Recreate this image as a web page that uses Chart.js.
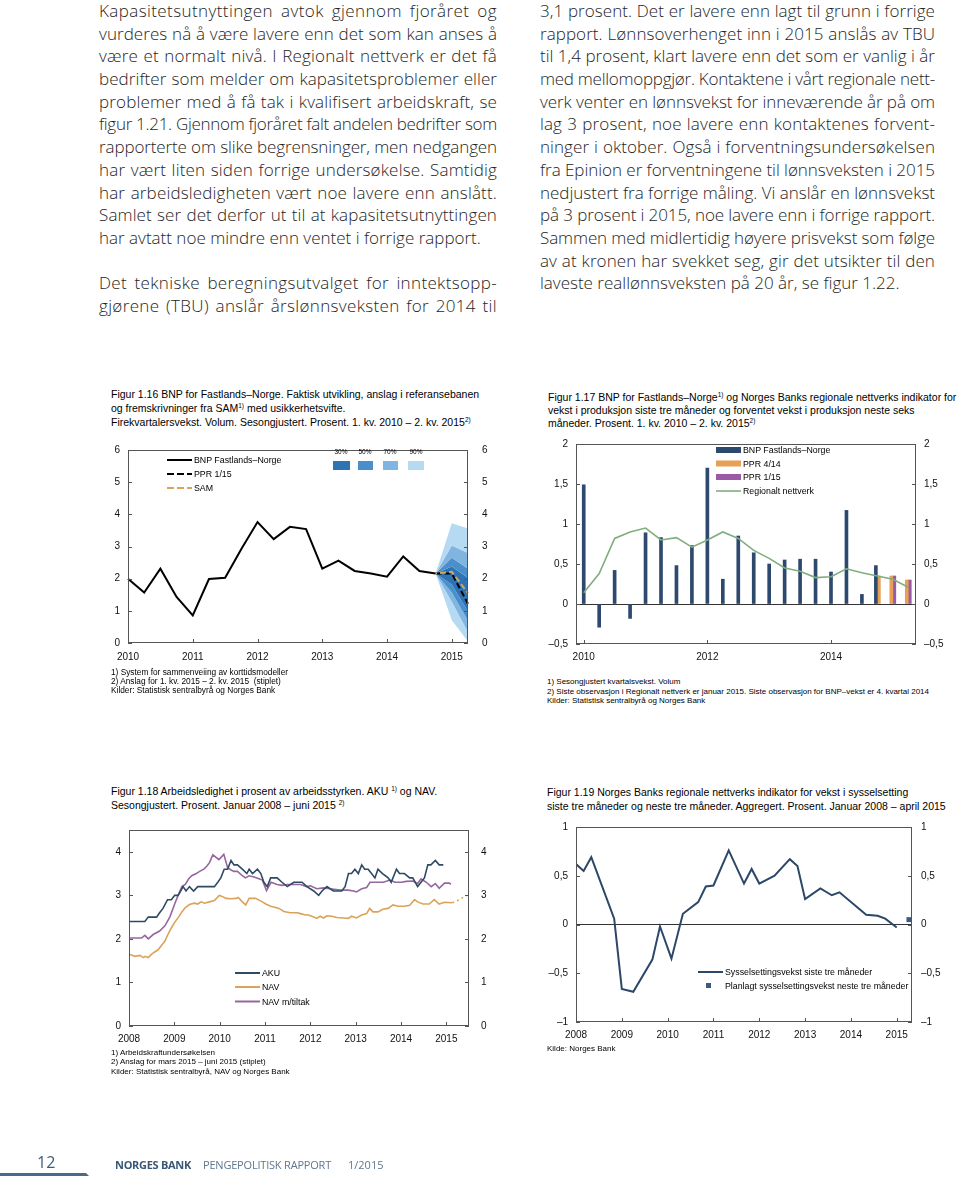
<!DOCTYPE html>
<html lang="no">
<head>
<meta charset="utf-8">
<title>Pengepolitisk rapport 1/2015 – side 12</title>
<script src="https://cdn.jsdelivr.net/npm/chart.js@4.4.1/dist/chart.umd.min.js"></script>
<style>
  body { margin: 0; width: 960px; height: 1183px; position: relative; background: #fff; overflow: hidden; }
  .col { position: absolute; top: 0; font-family: "Open Sans", Lato, sans-serif; font-weight: 300; font-size: 17px; line-height: 22.7px; color: #1e1e1e; }
  .col div { white-space: nowrap; height: 22.7px; }
  .fig { position: absolute; font-family: "Liberation Sans", Arial, sans-serif; color: #000; white-space: nowrap; }
  .title { font-size: 10.5px; line-height: 14px; }
  .fig sup { font-size: 6.5px; vertical-align: 4px; line-height: 0; }
  .note { font-size: 8px; line-height: 9px; }
  .leg { position: absolute; font-family: "Liberation Sans", Arial, sans-serif; font-size: 8.8px; line-height: 12px; white-space: nowrap; color: #000; }
  .pct { position: absolute; font-family: "Liberation Sans", Arial, sans-serif; font-size: 6.5px; width: 20px; text-align: center; }
  canvas { position: absolute; }
  svg { position: absolute; left: 0; top: 0; }
  .foot { position: absolute; font-family: "Open Sans", Lato, sans-serif; white-space: nowrap; }
</style>
</head>
<body>

<div class="col" id="colL" style="left:99px; width:398px;">
  <div class="j">Kapasitetsutnyttingen avtok gjennom fjoråret og</div>
  <div class="j">vurderes nå å være lavere enn det som kan anses å</div>
  <div class="j">være et normalt nivå. I Regionalt nettverk er det få</div>
  <div class="j">bedrifter som melder om kapasitetsproblemer eller</div>
  <div class="j">problemer med å få tak i kvalifisert arbeidskraft, se</div>
  <div class="j">figur 1.21. Gjennom fjoråret falt andelen bedrifter som</div>
  <div class="j">rapporterte om slike begrensninger, men nedgangen</div>
  <div class="j">har vært liten siden forrige undersøkelse. Samtidig</div>
  <div class="j">har arbeidsledigheten vært noe lavere enn anslått.</div>
  <div class="j">Samlet ser det derfor ut til at kapasitetsutnyttingen</div>
  <div class="e">har avtatt noe mindre enn ventet i forrige rapport.</div>
  <div></div>
  <div class="j">Det tekniske beregningsutvalget for inntektsopp-</div>
  <div class="j">gjørene (TBU) anslår årslønnsveksten for 2014 til</div>
</div>

<div class="col" id="colR" style="left:540px; width:395px;">
  <div class="j">3,1 prosent. Det er lavere enn lagt til grunn i forrige</div>
  <div class="j">rapport. Lønnsoverhenget inn i 2015 anslås av TBU</div>
  <div class="j">til 1,4 prosent, klart lavere enn det som er vanlig i år</div>
  <div class="j">med mellomoppgjør. Kontaktene i vårt regionale nett-</div>
  <div class="j">verk venter en lønnsvekst for inneværende år på om</div>
  <div class="j">lag 3 prosent, noe lavere enn kontaktenes forvent-</div>
  <div class="j">ninger i oktober. Også i forventningsundersøkelsen</div>
  <div class="j">fra Epinion er forventningene til lønnsveksten i 2015</div>
  <div class="j">nedjustert fra forrige måling. Vi anslår en lønnsvekst</div>
  <div class="j">på 3 prosent i 2015, noe lavere enn i forrige rapport.</div>
  <div class="j">Sammen med midlertidig høyere prisvekst som følge</div>
  <div class="j">av at kronen har svekket seg, gir det utsikter til den</div>
  <div class="e">laveste reallønnsveksten på 20 år, se figur 1.22.</div>
</div>

<!-- Figur 1.16 -->
<div class="fig title" style="left:111px; top:387px;">
  Figur 1.16 BNP for Fastlands–Norge. Faktisk utvikling, anslag i referansebanen<br>
  og fremskrivninger fra SAM<sup>1)</sup> med usikkerhetsvifte.<br>
  Firekvartalersvekst. Volum. Sesongjustert. Prosent. 1. kv. 2010 – 2. kv. 2015<sup>2)</sup>
</div>
<canvas id="c1" width="420" height="240" style="left:88px; top:430px;"></canvas>
<div class="fig note" style="left:111px; top:668px; font-size:8.3px; line-height:8.8px;">
  1) System for sammenveiing av korttidsmodeller<br>
  2) Anslag for 1. kv. 2015 – 2. kv. 2015 &nbsp;(stiplet)<br>
  Kilder: Statistisk sentralbyrå og Norges Bank
</div>

<!-- Figur 1.17 -->
<div class="fig title" style="left:548px; top:391px; line-height:13px;">
  Figur 1.17 BNP for Fastlands–Norge<sup>1)</sup> og Norges Banks regionale nettverks indikator for<br>
  vekst i produksjon siste tre måneder og forventet vekst i produksjon neste seks<br>
  måneder. Prosent. 1. kv. 2010 – 2. kv. 2015<sup>2)</sup>
</div>
<canvas id="c2" width="420" height="240" style="left:536px; top:430px;"></canvas>
<div class="fig note" style="left:547px; top:677px; line-height:9.6px;">
  1) Sesongjustert kvartalsvekst. Volum<br>
  2) Siste observasjon i Regionalt nettverk er januar 2015. Siste observasjon for BNP–vekst er 4. kvartal 2014<br>
  Kilder: Statistisk sentralbyrå og Norges Bank
</div>

<!-- Figur 1.18 -->
<div class="fig title" style="left:111px; top:784px; line-height:14px;">
  Figur 1.18 Arbeidsledighet i prosent av arbeidsstyrken. AKU <sup>1)</sup> og NAV.<br>
  Sesongjustert. Prosent. Januar 2008 – juni 2015 <sup>2)</sup>
</div>
<canvas id="c3" width="420" height="240" style="left:89px; top:812px;"></canvas>
<div class="fig note" style="left:111px; top:1048px; line-height:9.3px;">
  1) Arbeidskraftundersøkelsen<br>
  2) Anslag for mars 2015 – juni 2015 (stiplet)<br>
  Kilder: Statistisk sentralbyrå, NAV og Norges Bank
</div>

<!-- Figur 1.19 -->
<div class="fig title" style="left:547px; top:786px; line-height:13.5px;">
  Figur 1.19 Norges Banks regionale nettverks indikator for vekst i sysselsetting<br>
  siste tre måneder og neste tre måneder. Aggregert. Prosent. Januar 2008 – april 2015
</div>
<canvas id="c4" width="416" height="236" style="left:536px; top:812px;"></canvas>
<div class="fig note" style="left:547px; top:1044px;">Kilde: Norges Bank</div>

<!-- legend glyphs -->
<svg width="960" height="1183">
  <line x1="167" y1="460" x2="192" y2="460" stroke="#000" stroke-width="2"/>
  <line x1="167" y1="474" x2="192" y2="474" stroke="#000" stroke-width="2" stroke-dasharray="7,3"/>
  <line x1="167" y1="488" x2="192" y2="488" stroke="#d8a457" stroke-width="2" stroke-dasharray="7,3"/>
  <rect x="333" y="461" width="17" height="9" fill="#2e74b5"/>
  <rect x="358" y="461" width="15" height="9" fill="#4a8fcc"/>
  <rect x="383" y="461" width="15" height="9" fill="#7fb5e0"/>
  <rect x="408" y="461" width="16" height="9" fill="#b5daf2"/>

  <rect x="716" y="447" width="25" height="6" fill="#2d4a6e"/>
  <rect x="716" y="460.5" width="25" height="6" fill="#e8a055"/>
  <rect x="716" y="474" width="25" height="6" fill="#9a5aa6"/>
  <line x1="716" y1="491" x2="741" y2="491" stroke="#7fae7f" stroke-width="1.6"/>

  <line x1="235" y1="973" x2="260" y2="973" stroke="#2e4a65" stroke-width="2"/>
  <line x1="235" y1="987" x2="260" y2="987" stroke="#dba35a" stroke-width="2"/>
  <line x1="235" y1="1001.5" x2="260" y2="1001.5" stroke="#96679e" stroke-width="2"/>

  <line x1="698" y1="972" x2="723" y2="972" stroke="#2c4868" stroke-width="2"/>
  <rect x="706" y="983" width="5" height="5" fill="#3c5a80"/>

  <polygon points="0,1173 86,1173 89,1176 0,1176" fill="#4a6a8a"/>
</svg>

<div class="leg" style="left:194px; top:454px;">BNP Fastlands–Norge</div>
<div class="leg" style="left:194px; top:468px;">PPR 1/15</div>
<div class="leg" style="left:194px; top:482px;">SAM</div>
<div class="pct" style="left:331px; top:448px;">30%</div>
<div class="pct" style="left:355px; top:448px;">50%</div>
<div class="pct" style="left:380px; top:448px;">70%</div>
<div class="pct" style="left:406px; top:448px;">90%</div>

<div class="leg" style="left:743px; top:444px;">BNP Fastlands–Norge</div>
<div class="leg" style="left:743px; top:457.5px;">PPR 4/14</div>
<div class="leg" style="left:743px; top:471px;">PPR 1/15</div>
<div class="leg" style="left:743px; top:485px;">Regionalt nettverk</div>

<div class="leg" style="left:262px; top:967px;">AKU</div>
<div class="leg" style="left:262px; top:981px;">NAV</div>
<div class="leg" style="left:262px; top:995.5px;">NAV m/tiltak</div>

<div class="leg" style="left:725px; top:966px;">Sysselsettingsvekst siste tre måneder</div>
<div class="leg" style="left:725px; top:980px;">Planlagt sysselsettingsvekst neste tre måneder</div>

<div class="foot" style="left:37px; top:1151px; font-size:16px; color:#3d5b7a;">12</div>
<div class="foot" style="left:115px; top:1157px; font-size:11px; font-weight:bold; color:#3a5876; letter-spacing:-0.3px;">NORGES BANK</div>
<div class="foot" style="left:203px; top:1157px; font-size:11px; color:#5f7791; letter-spacing:-0.2px;">PENGEPOLITISK RAPPORT</div>
<div class="foot" style="left:348px; top:1157px; font-size:11px; color:#5f7791;">1/2015</div>

<script>
// ---- Figur 1.16: BNP Fastlands-Norge, firekvartalersvekst ----
const quarters = ['2010K1','2010K2','2010K3','2010K4','2011K1','2011K2','2011K3','2011K4',
  '2012K1','2012K2','2012K3','2012K4','2013K1','2013K2','2013K3','2013K4',
  '2014K1','2014K2','2014K3','2014K4','2015K1','2015K2'];
const bnp4q = [2.00,1.57,2.31,1.43,0.86,1.99,2.03,2.92,3.76,3.23,3.61,3.54,2.31,2.56,2.24,2.16,2.06,2.69,2.24,2.16,null,null];
const n19 = Array(19).fill(null);
const ppr115Path = n19.concat([2.16, 2.16, 1.22]);
const samPath = n19.concat([2.16, 2.21, 1.55]);
// usikkerhetsvifte, øvre og nedre grenser
const up90 = n19.concat([2.16, 3.72, 3.56]);
const up70 = n19.concat([2.16, 3.03, 2.80]);
const up50 = n19.concat([2.16, 2.65, 2.31]);
const up30 = n19.concat([2.16, 2.38, 2.02]);
const lo30 = n19.concat([2.16, 1.82, 0.98]);
const lo50 = n19.concat([2.16, 1.57, 0.69]);
const lo70 = n19.concat([2.16, 1.28, 0.34]);
const lo90 = n19.concat([2.16, 0.71, 0.05]);
const ticks16 = [0, 1, 2, 3, 4, 5, 6];

// ---- Figur 1.17: kvartalsvekst og Regionalt nettverk ----
const bnpQ = [1.49,-0.29,0.42,-0.18,0.89,0.83,0.48,0.73,1.70,0.31,0.85,0.64,0.50,0.55,0.56,0.56,0.40,1.17,0.12,0.48,null,null];
const ppr414 = n19.concat([0.35, 0.35, 0.30]);
const ppr115 = n19.concat([null, 0.35, 0.30]);
const regional = [0.14,0.38,0.82,0.90,0.95,0.80,0.83,0.71,0.80,0.90,0.82,0.67,0.57,0.45,0.41,0.33,0.34,0.44,0.39,0.35,0.31,0.21];
const ticks17 = [-0.5, 0, 0.5, 1, 1.5, 2];

// ---- Figur 1.18: arbeidsledighet (måneder etter januar 2008) ----
const akuMonths = [0,4.2,5.1,7.3,8.1,9.0,10.2,11.2,12.1,13.0,13.7,14.3,15.1,16.0,17.1,18.2,22.6,23.5,24.3,25.2,
  26.1,27.0,27.8,28.7,30.0,31.2,31.8,32.7,34.0,34.9,35.7,36.6,37.5,39.2,40.5,41.9,43.6,45.8,47.1,48.9,
  50.2,51.1,52.4,54.1,56.3,57.2,58.1,58.9,59.8,60.7,61.6,62.4,63.3,64.2,65.1,65.9,67.1,68.6,69.4,70.8,
  71.6,72.9,74.3,75.1,76.4,77.3,78.2,79.1,79.9,81.1,82.1,83.2];
const akuValues = [2.4,2.4,2.5,2.5,2.6,2.7,2.9,2.9,3.0,3.0,3.1,3.2,3.1,3.2,3.1,3.2,3.2,3.3,3.4,3.6,
  3.6,3.8,3.7,3.7,3.6,3.5,3.6,3.5,3.6,3.5,3.3,3.2,3.4,3.4,3.3,3.2,3.3,3.3,3.2,3.1,
  3.0,3.1,3.2,3.1,3.1,3.2,3.5,3.5,3.6,3.5,3.7,3.6,3.6,3.5,3.4,3.6,3.5,3.4,3.3,3.6,
  3.5,3.5,3.4,3.4,3.2,3.3,3.4,3.7,3.7,3.8,3.7,3.7];
const navMonths = [0,1.6,2.9,3.8,4.2,5.1,6.0,6.8,7.7,8.6,9.5,10.3,11.2,12.1,13.1,14.0,14.9,16.0,17.3,18.2,
  19.1,20.0,21.3,22.6,23.9,24.8,25.7,27.0,28.3,28.9,30.0,30.9,31.8,33.5,35.3,36.2,37.5,38.8,39.7,41.0,
  42.7,44.5,45.4,46.7,47.5,48.9,49.7,50.6,51.5,52.4,53.7,55.0,56.7,58.1,58.9,60.2,61.6,62.9,63.7,64.6,
  65.9,67.2,68.6,69.9,71.2,72.9,74.3,75.6,76.4,77.8,79.5,80.8,82.1,83.5,85.6];
const navValues = [1.65,1.6,1.62,1.57,1.6,1.57,1.65,1.7,1.75,1.85,1.95,2.1,2.25,2.38,2.5,2.62,2.72,2.79,2.82,2.8,
  2.85,2.82,2.85,2.88,3.0,2.97,2.93,2.92,2.93,2.95,2.85,2.78,2.93,2.93,2.85,2.8,2.75,2.72,2.7,2.63,
  2.6,2.6,2.58,2.55,2.55,2.5,2.47,2.52,2.48,2.53,2.52,2.49,2.48,2.47,2.52,2.48,2.55,2.58,2.7,2.62,
  2.62,2.68,2.7,2.78,2.75,2.75,2.77,2.9,2.85,2.8,2.8,2.9,2.8,2.84,2.83];
const navFcMonths = [85.6, 87.4, 89.4];
const navFcValues = [2.83, 2.9, 3.0];
const tiltakMonths = [0,3.3,4.2,5.1,6.4,8.1,9.5,10.8,12.1,13.0,14.0,14.9,15.8,16.6,17.8,18.7,19.8,20.7,21.3,22.2,
  23.8,25.1,26.1,27.0,27.8,28.7,30.0,30.8,31.8,33.1,34.4,35.3,36.4,37.6,39.2,40.5,41.9,43.6,45.4,47.0,
  48.0,49.7,51.5,53.2,55.9,58.0,59.4,60.2,61.6,62.9,63.8,65.6,67.3,69.1,70.4,72.1,73.4,75.2,76.4,77.3,
  78.7,80.0,81.1,82.1,83.5,84.8,85.2];
const tiltakValues = [2.02,2.02,2.08,2.0,2.1,2.18,2.3,2.5,2.8,3.0,3.2,3.25,3.38,3.45,3.5,3.55,3.6,3.68,3.75,3.93,
  3.82,3.94,3.64,3.58,3.55,3.55,3.45,3.4,3.45,3.42,3.38,3.35,3.11,3.3,3.25,3.23,3.25,3.25,3.25,3.2,
  3.22,3.15,3.17,3.15,3.12,3.12,3.1,3.08,3.15,3.18,3.3,3.3,3.3,3.35,3.3,3.3,3.32,3.33,3.27,3.38,
  3.3,3.2,3.27,3.16,3.28,3.28,3.25];
const ticks18 = [0, 1, 2, 3, 4];
const yearTicks = [0, 12, 24, 36, 48, 60, 72, 84];

// ---- Figur 1.19: sysselsetting, Regionalt nettverk ----
const empMonths = [0,2,4,10,12,15,20,22,25,28,32,34,36,40,44,46,48,52,56,58,60,64,67,69,76,79,81,84];
const empValues = [0.62,0.55,0.69,0.06,-0.66,-0.69,-0.36,-0.02,-0.35,0.11,0.23,0.39,0.40,0.76,0.42,0.57,0.42,0.50,0.67,0.60,0.26,0.37,0.30,0.33,0.10,0.09,0.06,-0.03];
const planMonths = [87.2];
const planValues = [0.05];
const ticks19 = [-1, -0.5, 0, 0.5, 1];

// ---------------------------------------------------------------
Chart.defaults.font.family = '"Liberation Sans", Arial, sans-serif';
Chart.defaults.font.size = 10;
Chart.defaults.color = '#111';
Chart.defaults.animation = false;
Chart.defaults.plugins.legend.display = false;
Chart.defaults.plugins.tooltip.enabled = false;
Chart.defaults.elements.point.radius = 0;
Chart.defaults.elements.line.tension = 0;

const fmt = v => (v < 0 ? '–' : '') + String(Math.abs(v)).replace('.', ',');
const xy = (xs, ys) => xs.map((x, i) => ({ x: x, y: ys[i] }));

// frame round the plot, with short ticks pointing inwards
const framePlugin = {
  id: 'frame',
  afterDraw(chart) {
    const { ctx, chartArea: a } = chart;
    ctx.save();
    ctx.strokeStyle = '#555';
    ctx.lineWidth = 1;
    ctx.strokeRect(Math.round(a.left) + 0.5, Math.round(a.top) + 0.5,
      Math.round(a.right - a.left) - 1, Math.round(a.bottom - a.top) - 1);
    ctx.beginPath();
    Object.values(chart.scales).forEach(s => {
      s.ticks.forEach((t, i) => {
        if (s.isHorizontal()) {
          if (t.label === '') return;
          const x = Math.round(s.getPixelForTick(i)) + 0.5;
          ctx.moveTo(x, a.bottom); ctx.lineTo(x, a.bottom - 4);
        } else {
          const y = Math.round(s.getPixelForValue(t.value)) + 0.5;
          if (s.position === 'left') { ctx.moveTo(a.left, y); ctx.lineTo(a.left + 4, y); }
          else { ctx.moveTo(a.right - 4, y); ctx.lineTo(a.right, y); }
        }
      });
    });
    ctx.stroke();
    ctx.restore();
  }
};

function yScales(tickVals, min, max, padL, padR, zeroLine) {
  const mk = (pos, pad) => ({
    position: pos, min: min, max: max,
    afterFit: s => { s.width = 40; },
    afterBuildTicks: s => { s.ticks = tickVals.map(v => ({ value: v })); },
    border: { display: false },
    grid: {
      display: pos === 'left' && zeroLine, drawTicks: false,
      color: c => (c.tick && c.tick.value === 0 ? '#333' : 'rgba(0,0,0,0)')
    },
    ticks: { padding: pad, callback: fmt }
  });
  return { y: mk('left', padL), y2: mk('right', padR) };
}

function monthAxis(max) {
  return {
    type: 'linear', min: 0, max: max,
    afterFit: s => { s.height = 26; },
    afterBuildTicks: s => { s.ticks = yearTicks.map(v => ({ value: v })); },
    border: { display: false },
    grid: { display: false, drawTicks: false },
    ticks: { padding: 7, maxRotation: 0, autoSkip: false, callback: v => String(2008 + v / 12) }
  };
}

function base(scales) {
  return {
    responsive: false,
    layout: { padding: { top: 10, left: 0, right: 0, bottom: 0 } },
    plugins: { filler: { drawTime: 'beforeDatasetsDraw' } },
    scales: scales
  };
}

// Figur 1.16
const band = (data, color) => ({
  data: data, borderWidth: 0, borderColor: 'rgba(0,0,0,0)',
  backgroundColor: color || 'rgba(0,0,0,0)', fill: color ? '+1' : false
});
new Chart(document.getElementById('c1'), {
  type: 'line',
  data: {
    labels: quarters,
    datasets: [
      { data: samPath, borderColor: '#d8a457', borderWidth: 2, borderDash: [6, 3], borderDashOffset: 4.5 },
      { data: ppr115Path, borderColor: '#000', borderWidth: 2, borderDash: [6, 3] },
      { data: bnp4q, borderColor: '#000', borderWidth: 2 },
      band(up90, '#b5daf2'), band(up70, '#7fb5e0'), band(up50, '#4a8fcc'), band(up30, '#2e74b5'),
      band(lo30, '#4a8fcc'), band(lo50, '#7fb5e0'), band(lo70, '#b5daf2'), band(lo90, null)
    ]
  },
  options: base(Object.assign({
    x: {
      type: 'category', offset: false,
      afterFit: s => { s.height = 27; },
      border: { display: false },
      grid: { display: false, drawTicks: false },
      ticks: { padding: 8, autoSkip: false, maxRotation: 0,
        callback: (v, i) => (quarters[i].endsWith('K1') ? quarters[i].slice(0, 4) : '') }
    }
  }, yScales(ticks16, 0, 6, 8, 14, false))),
  plugins: [framePlugin]
});

// Figur 1.17
new Chart(document.getElementById('c2'), {
  type: 'bar',
  data: {
    labels: quarters,
    datasets: [
      { type: 'line', data: regional, borderColor: '#7fae7f', borderWidth: 1.6, order: 0 },
      { data: bnpQ, backgroundColor: '#2d4a6e', order: 1 },
      { data: ppr414, backgroundColor: '#e8a055', order: 1 },
      { data: ppr115, backgroundColor: '#9a5aa6', order: 1 }
    ]
  },
  options: Object.assign(base(Object.assign({
    x: {
      type: 'category', offset: true,
      afterFit: s => { s.height = 26; },
      border: { display: false },
      grid: { display: false, drawTicks: false },
      ticks: { padding: 7, autoSkip: false, maxRotation: 0,
        callback: (v, i) => {
          const q = quarters[i];
          return q.endsWith('K1') && +q.slice(0, 4) % 2 === 0 ? q.slice(0, 4) : '';
        } }
    }
  }, yScales(ticks17, -0.5, 2, 8, 8, true))), {
    datasets: { bar: { barThickness: 3, skipNull: true } }
  }),
  plugins: [framePlugin]
});

// Figur 1.18
new Chart(document.getElementById('c3'), {
  type: 'line',
  data: {
    datasets: [
      { data: xy(akuMonths, akuValues), borderColor: '#2e4a65', borderWidth: 1.6 },
      { data: xy(tiltakMonths, tiltakValues), borderColor: '#96679e', borderWidth: 1.6 },
      { data: xy(navMonths, navValues), borderColor: '#dba35a', borderWidth: 1.6 },
      { data: xy(navFcMonths, navFcValues), borderColor: '#dba35a', borderWidth: 1.6, borderDash: [2, 3] }
    ]
  },
  options: base(Object.assign({ x: monthAxis(90) }, yScales(ticks18, 0, 4.5, 8, 12, false))),
  plugins: [framePlugin]
});

// Figur 1.19
new Chart(document.getElementById('c4'), {
  type: 'line',
  data: {
    datasets: [
      { data: xy(empMonths, empValues), borderColor: '#2c4868', borderWidth: 2 },
      { data: xy(planMonths, planValues), showLine: false, pointStyle: 'rect', pointRadius: 3.5,
        backgroundColor: '#3c5a80', borderWidth: 0 }
    ]
  },
  options: base(Object.assign({ x: monthAxis(88) }, yScales(ticks19, -1, 1, 8, 9, true))),
  plugins: [framePlugin]
});

// justify body text line by line: spread the gap mostly over the letters
document.querySelectorAll('.col').forEach(col => {
  const target = col.clientWidth;
  col.querySelectorAll('div').forEach(el => {
    const txt = el.textContent;
    if (!txt.trim()) return;
    el.innerHTML = '<span>' + txt + '</span>';
    const w = el.firstChild.getBoundingClientRect().width;
    const extra = target - w;
    if (el.classList.contains('j') && extra >= 0) {
      const spaces = (txt.match(/ /g) || []).length;
      el.style.letterSpacing = (extra * 0.6 / txt.length) + 'px';
      if (spaces) el.style.wordSpacing = (extra * 0.4 / spaces) + 'px';
    } else if (extra < 0) {
      el.style.letterSpacing = (extra / txt.length) + 'px';
    }
  });
});
</script>
</body>
</html>
